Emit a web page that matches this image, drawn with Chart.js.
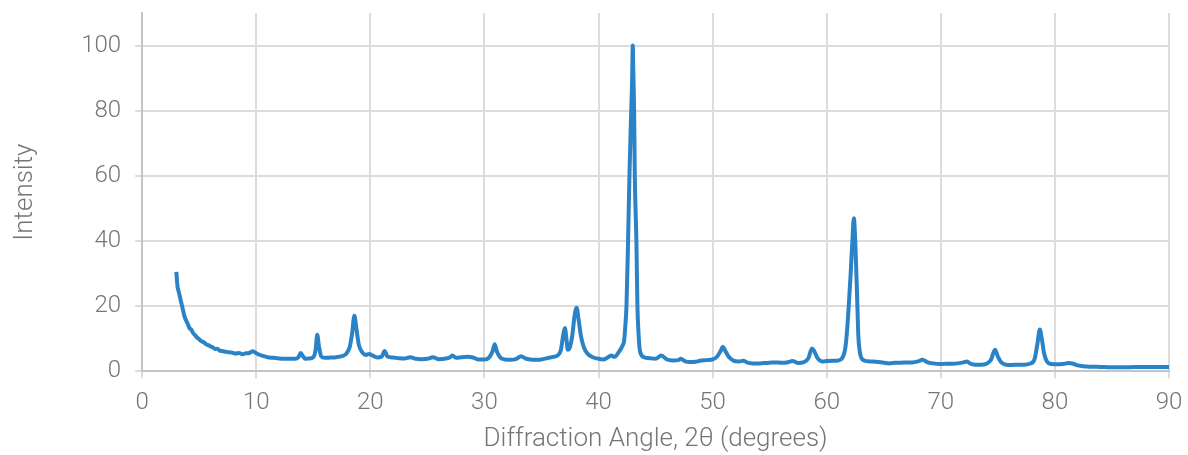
<!DOCTYPE html>
<html lang="en">
<head>
	<meta charset="UTF-8">
	<title>XRD pattern</title>
	<script src="https://cdn.jsdelivr.net/npm/chart.js@4.4.1/dist/chart.umd.min.js"></script>
	<style>
		html, body {
			margin: 0;
			padding: 0;
			background: #fff;
		}

		#canvasContainer {
			width: 1188px;
			height: 455px;
		}
	</style>
</head>

<body>
	<div id="canvasContainer">
		<canvas id="chart"></canvas>
	</div>

	<script>
		// diffraction angle 2θ (degrees)
		const angles = [
			3.0, 3.05, 3.1, 3.2, 3.3, 3.4, 3.5, 3.6, 3.7, 3.8, 3.9, 4.0, 4.15, 4.3, 4.45, 4.6, 4.8, 5.0, 5.2, 5.4,
			5.6, 5.8, 6.0, 6.2, 6.4, 6.6, 6.8, 7.0, 7.3, 7.6, 7.9, 8.2, 8.5, 8.8, 9.1, 9.4, 9.7, 10.0, 10.3, 10.6,
			11.0, 11.5, 12.0, 12.5, 13.0, 13.4, 13.7, 13.9, 14.1, 14.3, 14.6, 15.0, 15.2, 15.35, 15.5, 15.7, 16.0, 16.5, 17.0, 17.5,
			17.9, 18.2, 18.4, 18.6, 18.8, 19.0, 19.3, 19.6, 19.9, 20.2, 20.6, 21.0, 21.25, 21.5, 22.0, 22.5, 23.0, 23.5, 24.0, 24.5,
			25.0, 25.5, 26.0, 26.5, 27.0, 27.2, 27.5, 28.0, 28.5, 29.0, 29.5, 30.0, 30.4, 30.7, 30.9, 31.1, 31.4, 31.8, 32.3, 32.8,
			33.2, 33.6, 34.0, 34.5, 35.0, 35.5, 36.0, 36.4, 36.7, 36.9, 37.05, 37.2, 37.3, 37.5, 37.7, 37.9, 38.08, 38.25, 38.45, 38.7,
			39.0, 39.5, 40.0, 40.4, 40.8, 41.1, 41.4, 41.8, 42.1, 42.25, 42.35, 42.45, 42.59, 42.71, 42.85, 42.95, 43.0, 43.05, 43.12, 43.18,
			43.32, 43.41, 43.5, 43.6, 43.75, 44.0, 44.5, 45.0, 45.5, 46.0, 46.5, 47.0, 47.2, 47.6, 48.0, 48.5, 49.0, 49.5, 50.0, 50.4,
			50.7, 50.9, 51.1, 51.4, 51.8, 52.3, 52.7, 53.0, 53.5, 54.0, 54.5, 55.0, 55.5, 56.0, 56.5, 57.0, 57.5, 58.0, 58.4, 58.7,
			58.9, 59.2, 59.6, 60.0, 60.5, 61.0, 61.35, 61.6, 61.75, 61.93, 62.1, 62.25, 62.38, 62.5, 62.6, 62.69, 62.77, 62.9, 63.05, 63.3,
			63.8, 64.3, 65.0, 65.5, 66.0, 66.5, 67.0, 67.5, 68.0, 68.4, 68.8, 69.3, 70.0, 70.5, 71.0, 71.5, 72.0, 72.3, 72.6, 73.0,
			73.5, 74.0, 74.4, 74.75, 75.0, 75.3, 75.7, 76.2, 76.8, 77.3, 77.8, 78.2, 78.45, 78.68, 78.85, 79.05, 79.3, 79.7, 80.2, 80.7,
			81.2, 81.6, 82.0, 82.5, 83.0, 84.0, 85.0, 86.0, 87.0, 88.0, 89.0, 90.0
		];

		// intensity (normalised, strongest peak = 100)
		const intensity = [
			30.5, 28, 26, 24.5, 23, 21.5, 20, 18.5, 17, 16, 15.2, 14.5, 13.2, 12.8, 11.8, 11.2, 10.4, 9.8, 9.2, 8.9,
			8.3, 8.0, 7.6, 7.3, 6.8, 6.9, 6.3, 6.2, 6.0, 5.8, 5.7, 5.4, 5.6, 5.2, 5.5, 5.6, 6.1, 5.5, 5.0, 4.7,
			4.3, 4.1, 3.9, 3.8, 3.8, 3.8, 4.3, 5.6, 4.6, 3.8, 3.9, 4.3, 6.5, 11.2, 7.5, 4.5, 4.1, 4.2, 4.3, 4.6,
			5.4, 7.5, 11.5, 17.0, 12.5, 8.0, 5.8, 5.0, 5.3, 4.8, 4.2, 4.5, 6.2, 4.5, 4.2, 4.0, 3.9, 4.3, 3.8, 3.7,
			3.8, 4.3, 3.7, 3.8, 4.3, 4.8, 4.1, 4.3, 4.4, 4.2, 3.6, 3.6, 4.2, 6.0, 8.3, 6.0, 4.2, 3.6, 3.5, 3.8,
			4.6, 3.9, 3.6, 3.5, 3.6, 4.0, 4.4, 4.8, 6.5, 11, 13.3, 9.5, 6.6, 7.5, 11, 17, 19.5, 16, 11, 7.5,
			5.5, 4.3, 3.8, 3.6, 4.2, 4.8, 4.4, 6.0, 7.8, 9.5, 14, 20, 40, 60, 78, 90, 100, 92, 80, 60,
			40, 20, 12, 7, 5, 4.3, 4.0, 3.8, 4.8, 3.6, 3.3, 3.4, 3.8, 3.0, 2.8, 2.9, 3.3, 3.4, 3.6, 4.5,
			6.2, 7.5, 6.3, 4.5, 3.3, 3.0, 3.2, 2.7, 2.4, 2.4, 2.5, 2.6, 2.7, 2.6, 2.7, 3.1, 2.5, 2.8, 4.0, 7.0,
			6.2, 4.0, 3.0, 3.1, 3.2, 3.3, 4.0, 6.5, 11, 20, 30, 40, 47, 40, 30, 20, 11, 6, 4, 3.3,
			3.0, 2.9, 2.6, 2.4, 2.6, 2.6, 2.7, 2.7, 3.0, 3.5, 2.8, 2.4, 2.2, 2.3, 2.3, 2.4, 2.7, 3.0, 2.3, 2.0,
			2.0, 2.3, 3.5, 6.6, 4.5, 2.7, 2.0, 1.9, 2.0, 2.0, 2.3, 3.5, 8, 12.8, 10, 5.5, 3.0, 2.2, 2.1, 2.2,
			2.5, 2.3, 1.8, 1.5, 1.4, 1.3, 1.2, 1.2, 1.3, 1.3, 1.3, 1.3
		];

		const xTitle = "Diffraction Angle, 2θ (degrees)";
		const yTitle = "Intensity";

		const points = angles.map((a, i) => ({ x: a, y: intensity[i] }));

		const tickColor = "#757575";
		const gridColor = "#dcdcdc";
		const axisColor = "#c4c4c4";
		const fontFamily = "Roboto, 'Noto Sans', sans-serif";

		// the last labels sit inside the plot, so drop the extra room Chart.js keeps for them
		function noEdgePadding(scale) {
			scale.paddingTop = 0;
			scale.paddingRight = 0;
		}

		const ctx = document.getElementById("chart").getContext("2d");

		const config = {
			type: 'line',
			data: {
				datasets: [{
					data: points,
					borderColor: '#2a82c7',
					borderWidth: 4,
					pointRadius: 0,
					cubicInterpolationMode: 'monotone',
					fill: false
				}]
			},
			options: {
				responsive: false,
				animation: false,
				plugins: {
					legend: { display: false },
					tooltip: { enabled: false }
				},
				layout: {
					padding: { top: 13, right: 19, bottom: 3, left: 10 }
				},
				scales: {
					x: {
						type: 'linear',
						min: 0,
						max: 90,
						afterFit: noEdgePadding,
						ticks: {
							stepSize: 10,
							color: tickColor,
							padding: 10,
							font: { family: fontFamily, size: 24, weight: 300 }
						},
						grid: {
							color: gridColor,
							lineWidth: 2,
							tickLength: 7
						},
						border: { color: axisColor, width: 2 },
						title: {
							display: true,
							text: xTitle,
							color: tickColor,
							font: { family: fontFamily, size: 26, weight: 300, lineHeight: 1.0 },
							padding: { top: -1, bottom: 0 }
						}
					},
					y: {
						min: 0,
						max: 110,
						afterBuildTicks: scale => {
							scale.ticks = scale.ticks.filter(t => t.value <= 100);
						},
						afterFit: noEdgePadding,
						ticks: {
							stepSize: 20,
							color: tickColor,
							padding: 14,
							font: { family: fontFamily, size: 24, weight: 300 }
						},
						grid: {
							color: gridColor,
							lineWidth: 2,
							tickLength: 7
						},
						border: { color: axisColor, width: 2 },
						title: {
							display: true,
							text: yTitle,
							color: tickColor,
							font: { family: fontFamily, size: 26, weight: 300 },
							padding: { top: 0, bottom: 26 }
						}
					}
				}
			}
		};

		const canvas = document.getElementById("chart");
		canvas.width = 1188;
		canvas.height = 455;

		new Chart(ctx, config);
	</script>
</body>
</html>
